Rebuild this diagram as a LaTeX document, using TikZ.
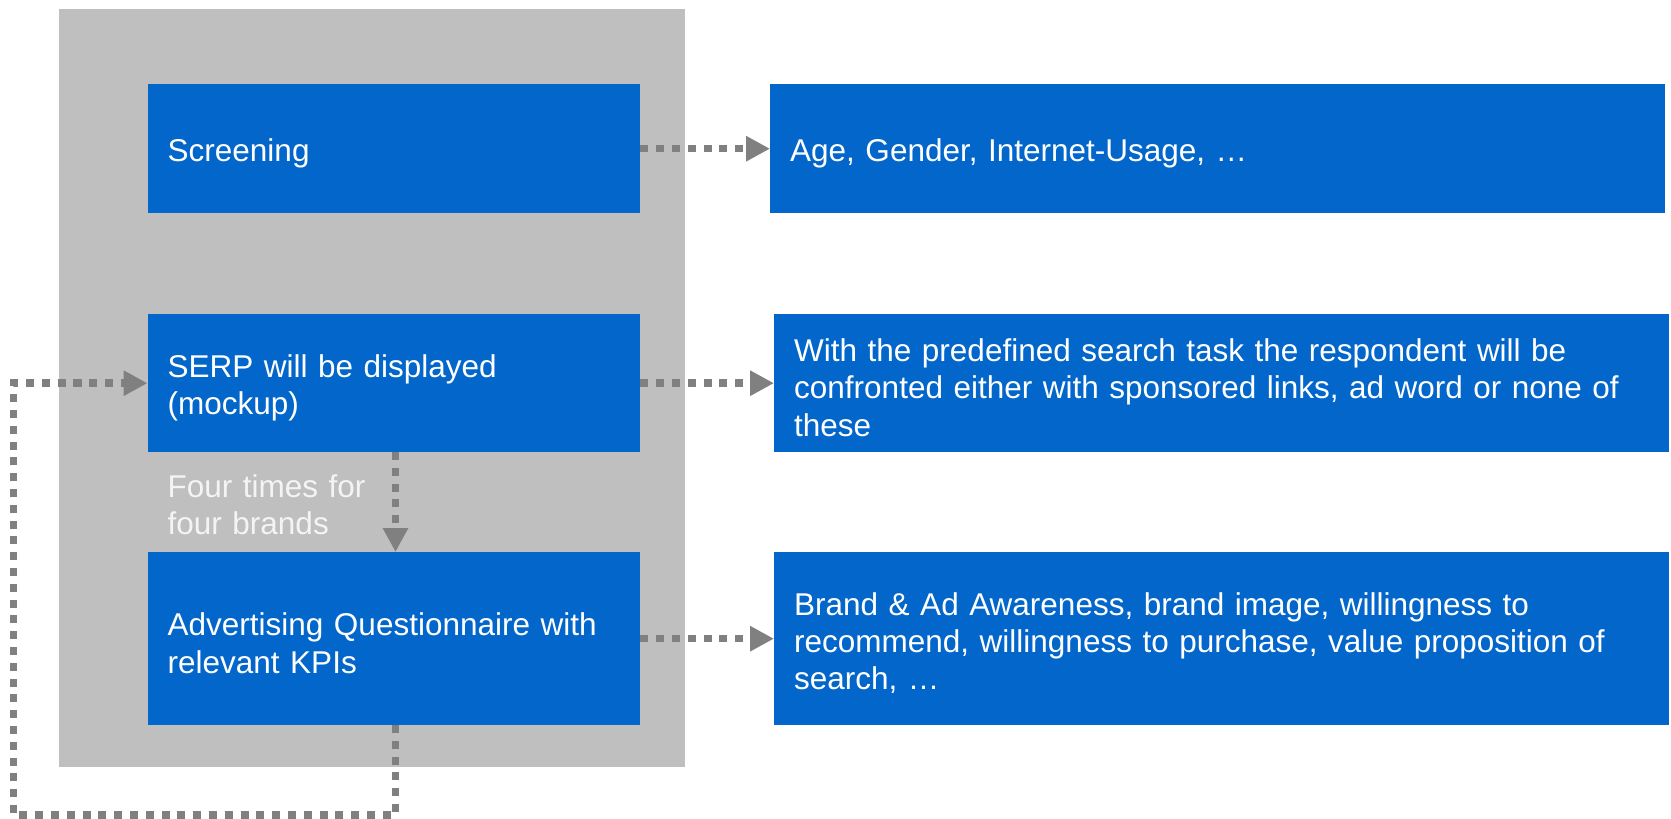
\documentclass[tikz,border=0pt]{standalone}
\usepackage{fontspec}
\setmainfont{Liberation Sans}
\usetikzlibrary{arrows.meta}
\definecolor{boxblue}{HTML}{0366CB}
\definecolor{panelgray}{HTML}{BFBFBF}
\definecolor{arrgray}{HTML}{808080}
\definecolor{lighttxt}{HTML}{F4F4F4}
\tikzset{
  box/.style={fill=boxblue, draw=none, inner sep=0pt, anchor=north west},
  txt/.style={text=white, inner xsep=20pt, inner ysep=0pt, align=left, anchor=west,
    yshift=-4.5pt, font=\fontsize{31.5}{37.3}\selectfont},
  conn/.style={draw=arrgray, line width=7.5pt, dash pattern=on 8pt off 7.8pt,
    -{Triangle[length=24pt,width=24pt]}}
}
\begin{document}
\begin{tikzpicture}[x=1pt,y=-1pt]
\useasboundingbox (0,0) rectangle (1671,819);
\fill[panelgray] (59,9) rectangle (685,767);
% left boxes
\node[box, minimum width=492.5pt, minimum height=129pt] (scr) at (147.5,84) {};
\node[txt, text width=452.5pt] (scrT) at (scr.west) {Screening};
\node[box, minimum width=492.5pt, minimum height=138pt] (serp) at (147.5,314) {};
\node[txt, text width=452.5pt] (serpT) at (serp.west) {SERP will be displayed\\(mockup)};
\node[box, minimum width=492.5pt, minimum height=173pt] (adv) at (147.5,552) {};
\node[txt, text width=452.5pt] (advT) at (adv.west) {Advertising Questionnaire with\\relevant KPIs};
% right boxes
\node[box, minimum width=895pt, minimum height=129pt] (age) at (770,84) {};
\node[txt, text width=855pt] (ageT) at (age.west) {Age, Gender, Internet-Usage, …};
\node[box, minimum width=895pt, minimum height=138pt] (with) at (774,314) {};
\node[txt, text width=855pt] (withT) at (with.west) {With the predefined search task the respondent will be\\confronted either with sponsored links, ad word or none of\\these};
\node[box, minimum width=895pt, minimum height=173pt] (brand) at (774,552) {};
\node[txt, text width=855pt] (brandT) at (brand.west) {Brand \& Ad Awareness, brand image, willingness to\\recommend, willingness to purchase, value proposition of\\search, …};
% label
\node[txt, text=lighttxt, yshift=2pt, text width=300pt] (four) at (147.5,502) {Four times for\\four brands};
% connectors
\draw[conn] (scr.east) -- (age.west);
\draw[conn] (serp.east) -- (with.west);
\draw[conn] (adv.east) -- (brand.west);
\coordinate (topx) at (395.5,452);
\coordinate (botx) at (395.5,552);
\draw[conn] (topx) -- (botx);
\coordinate (advb) at (395.5,725);
\coordinate (lb) at (13.5,815);
\draw[conn] (advb) |- (lb) |- (serp.west);
\end{tikzpicture}
\end{document}
